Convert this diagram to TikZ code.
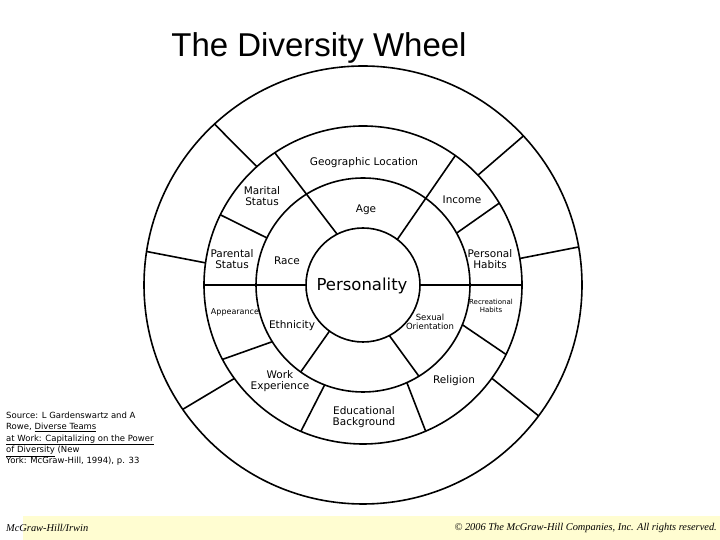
\documentclass[tikz,border=0pt]{standalone}
\usepackage{fontspec}
\setmainfont{DejaVu Sans}
\newfontfamily\titlefont{Liberation Sans}
\newfontfamily\footfont{Liberation Serif}
\begin{document}
\begin{tikzpicture}[x=1pt,y=1pt,
  ring/.style={line width=1.6pt},
  lbl/.style={font=\fontsize{10.5}{11.5}\selectfont, align=center, inner sep=0pt},
  smalllbl/.style={font=\fontsize{8.5}{9.5}\selectfont, align=center, inner sep=0pt},
  tinylbl/.style={font=\fontsize{7}{8}\selectfont, align=center, inner sep=0pt}]
\useasboundingbox (0,0) rectangle (720,540);
\fill[white] (0,0) rectangle (720,540);
\fill[yellow!18] (23,0) rectangle (720,24);
\node[font=\titlefont\fontsize{33}{35}\selectfont] (title) at (319,492) {The Diversity Wheel};
\begin{scope}[shift={(363,255)}]
\draw[ring] (0,0) circle (219);
\draw[ring] (0,0) circle (159);
\draw[ring] (0,0) circle (107);
\draw[ring] (0,0) circle (57);
% inner spokes
\draw[ring] (117:57) -- (123.7:159);
\draw[ring] (53:57) -- (54.5:159);
\draw[ring] (0:57) -- (0:159);
\draw[ring] (180:57) -- (180:159);
\draw[ring] (234:57) -- (234.4:107);
\draw[ring] (-62.5:57) -- (-58.5:107);
% middle ring spokes
\draw[ring] (153.9:107) -- (153.8:159);
\draw[ring] (29:107) -- (31:159);
\draw[ring] (212:107) -- (207.9:159);
\draw[ring] (249:107) -- (247:159);
\draw[ring] (-65.8:107) -- (-66.8:159);
\draw[ring] (-21.8:107) -- (-25.9:159);
% outer spokes
\draw[ring] (131.9:159) -- (132.7:219);
\draw[ring] (172:159) -- (171.2:219);
\draw[ring] (216:159) -- (214.6:219);
\draw[ring] (-35.9:159) -- (-36.7:219);
\draw[ring] (9.6:159) -- (10:219);
\draw[ring] (43.7:159) -- (42.9:219);
\end{scope}
\node[lbl] (geo) at (364,377) {Geographic Location};
\node[lbl] (mar) at (262,344) {Marital\\Status};
\node[lbl] (age) at (366,330) {Age};
\node[lbl] (inc) at (462,340) {Income};
\node[lbl] (par) at (232,281) {Parental\\Status};
\node[lbl] (race) at (287,279) {Race};
\node[lbl] (ph) at (490,281) {Personal\\Habits};
\node[font=\fontsize{16.5}{18}\selectfont, inner sep=0pt] (pers) at (362,254) {Personality};
\node[tinylbl, font=\fontsize{8}{9}\selectfont] (app) at (235,228) {Appearance};
\node[lbl] (eth) at (292,214) {Ethnicity};
\node[smalllbl] (sex) at (430,218) {Sexual\\Orientation};
\node[tinylbl] (rec) at (491,234) {Recreational\\Habits};
\node[lbl] (work) at (280,159) {Work\\Experience};
\node[lbl] (rel) at (454,159) {Religion};
\node[lbl] (edu) at (364,123) {Educational\\Background};
\node[font=\fontsize{8.5}{11.3}\selectfont, align=left, anchor=north west, inner sep=0pt] (src) at (6,128)
 {Source: L Gardenswartz and A\\Rowe, \underline{Diverse Teams}\\\underline{at Work: Capitalizing on the Power}\\\underline{of Diversity} (New\\York: McGraw-Hill, 1994), p. 33};
\node[font=\footfont\itshape\fontsize{10.4}{11}\selectfont, anchor=west, inner sep=0pt] (mh) at (6,12) {McGraw-Hill/Irwin};
\node[font=\footfont\itshape\fontsize{10.4}{11}\selectfont, anchor=east, inner sep=0pt] (cp) at (717,12) {© 2006 The McGraw-Hill Companies, Inc. All rights reserved.};
\end{tikzpicture}
\end{document}
